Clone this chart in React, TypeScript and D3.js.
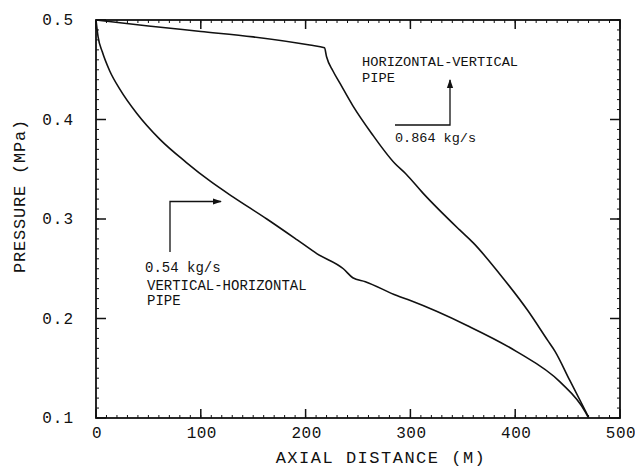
import React from 'react';
import * as d3 from 'd3';

// horizontal-vertical pipe, 0.864 kg/s
const hvDistance = [0, 50, 100, 150, 204, 218, 220, 226, 233, 245, 263, 285, 296, 312, 347, 360, 385, 412, 431, 438, 452, 470];
const hvPressure = [0.5, 0.494, 0.4885, 0.483, 0.4748, 0.472, 0.463, 0.449, 0.436, 0.414, 0.386, 0.356, 0.345, 0.326, 0.289, 0.276, 0.245, 0.208, 0.178, 0.167, 0.138, 0.101];

// vertical-horizontal pipe, 0.54 kg/s
const vhDistance = [0, 2, 6, 13, 23, 39, 61, 86, 109, 131, 163, 192, 211, 236, 245, 257, 287, 300, 354, 401, 443, 467, 470];
const vhPressure = [0.5, 0.483, 0.468, 0.449, 0.43, 0.406, 0.38, 0.357, 0.338, 0.322, 0.3, 0.279, 0.265, 0.25, 0.241, 0.237, 0.223, 0.218, 0.193, 0.167, 0.136, 0.106, 0.1];

const xTicks = [0, 100, 200, 300, 400, 500];
const yTicks = [0.1, 0.2, 0.3, 0.4, 0.5];

const W = 635;
const H = 469;
const left = 96, right = 620, top = 20, bottom = 418;
const font = "'Liberation Mono', 'Courier New', monospace";

const App = () => {
  const x = d3.scaleLinear().domain([0, 500]).range([left, right]);
  const y = d3.scaleLinear().domain([0.1, 0.5]).range([bottom, top]);

  const line = d3
    .line<[number, number]>()
    .x((d) => x(d[0]))
    .y((d) => y(d[1]))
    .curve(d3.curveMonotoneX);

  const hvPath = line(hvDistance.map((d, i) => [d, hvPressure[i]]));
  const vhPath = line(vhDistance.map((d, i) => [d, vhPressure[i]]));

  // minor ticks every 10 m and every 0.01 MPa
  const xMinor = d3.range(0, 501, 10);
  const yMinor = d3.range(10, 51).map((v) => v / 100);

  return (
    <svg width={W} height={H} style={{ position: 'absolute', left: 0, top: 0, background: '#fff' }}>
      <defs>
        <marker id="arr" viewBox="0 0 10 10" refX="9" refY="5" markerWidth="7" markerHeight="7" orient="auto">
          <path d="M0,1.5 L10,5 L0,8.5 Z" fill="#111" />
        </marker>
      </defs>

      {/* frame */}
      <rect x={left} y={top} width={right - left} height={bottom - top} fill="none" stroke="#111" strokeWidth={1.8} />

      {/* minor ticks */}
      {xMinor.map((v) => (
        <g key={'xm' + v} stroke="#111" strokeWidth={1}>
          <line x1={x(v)} x2={x(v)} y1={bottom} y2={bottom - 3} />
          <line x1={x(v)} x2={x(v)} y1={top} y2={top + 3} />
        </g>
      ))}
      {yMinor.map((v) => (
        <g key={'ym' + v} stroke="#111" strokeWidth={1}>
          <line x1={left} x2={left + 3} y1={y(v)} y2={y(v)} />
          <line x1={right} x2={right - 3} y1={y(v)} y2={y(v)} />
        </g>
      ))}

      {/* major ticks and labels */}
      {xTicks.map((v) => (
        <g key={'x' + v}>
          <line x1={x(v)} x2={x(v)} y1={bottom} y2={bottom - 9} stroke="#111" strokeWidth={1.5} />
          <line x1={x(v)} x2={x(v)} y1={top} y2={top + 9} stroke="#111" strokeWidth={1.5} />
          <text x={x(v) + 1} y={438} textAnchor="middle" fontFamily={font} fontSize={16} letterSpacing={0.5} fill="#111">
            {v}
          </text>
        </g>
      ))}
      {yTicks.map((v) => (
        <g key={'y' + v}>
          <line x1={left} x2={left + 10} y1={y(v)} y2={y(v)} stroke="#111" strokeWidth={1.5} />
          <line x1={right} x2={right - 10} y1={y(v)} y2={y(v)} stroke="#111" strokeWidth={1.5} />
          <text x={74} y={y(v) + 5} textAnchor="end" fontFamily={font} fontSize={16} letterSpacing={1} fill="#111">
            {v.toFixed(1)}
          </text>
        </g>
      ))}

      {/* axis titles */}
      <text x={381} y={463} textAnchor="middle" fontFamily={font} fontSize={17} letterSpacing={1.5} fill="#111">
        AXIAL DISTANCE (M)
      </text>
      <text
        transform={`translate(25,196) rotate(-90)`}
        textAnchor="middle"
        fontFamily={font}
        fontSize={17}
        letterSpacing={0.8}
        fill="#111"
      >
        PRESSURE (MPa)
      </text>

      {/* curves */}
      <path d={hvPath} fill="none" stroke="#111" strokeWidth={1.6} />
      <path d={vhPath} fill="none" stroke="#111" strokeWidth={1.6} />

      {/* upper annotation */}
      <text x={362} y={66} fontFamily={font} fontSize={13.7} fill="#111">HORIZONTAL-VERTICAL</text>
      <text x={362} y={82} fontFamily={font} fontSize={13.7} fill="#111">PIPE</text>
      <polyline points="395,125 450,125 450,80" fill="none" stroke="#111" strokeWidth={1.3} markerEnd="url(#arr)" />
      <text x={395} y={141.5} fontFamily={font} fontSize={13.5} fill="#111">0.864 kg/s</text>

      {/* lower annotation */}
      <polyline points="170,252 170,201.5 221,201.5" fill="none" stroke="#111" strokeWidth={1.3} markerEnd="url(#arr)" />
      <text x={145} y={272} fontFamily={font} fontSize={14} fill="#111">0.54 kg/s</text>
      <text x={147} y={290} fontFamily={font} fontSize={14} fill="#111">VERTICAL-HORIZONTAL</text>
      <text x={147} y={305} fontFamily={font} fontSize={14} fill="#111">PIPE</text>
    </svg>
  );
};

export default App;
